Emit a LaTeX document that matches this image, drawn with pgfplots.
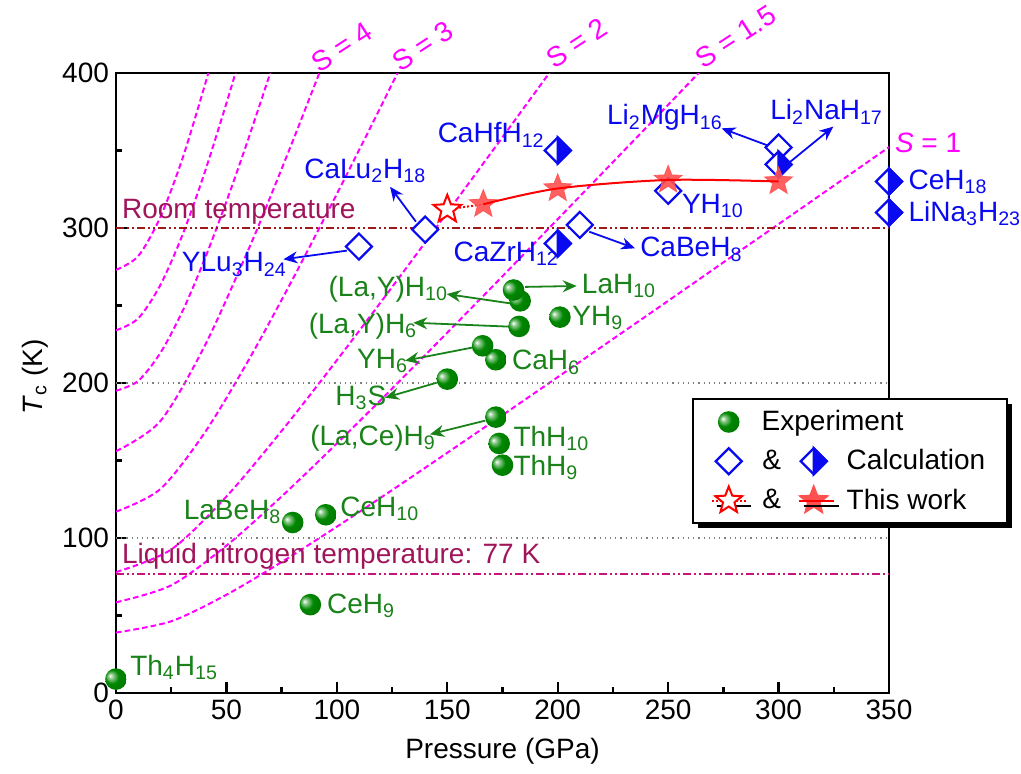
\documentclass[border=0pt]{standalone}
\usepackage{fontspec}
\setmainfont{Liberation Sans}
\usepackage{pgfplots}
\pgfplotsset{compat=1.18}
\usetikzlibrary{arrows.meta,shadows}
\definecolor{mag}{RGB}{255,0,255}
\definecolor{grn}{RGB}{25,130,25}
\definecolor{ballg}{RGB}{0,135,0}
\definecolor{blu}{RGB}{10,10,240}
\definecolor{rtline}{RGB}{160,25,25}
\definecolor{rtext}{RGB}{160,20,90}
\definecolor{lnline}{RGB}{200,20,120}
\definecolor{starf}{RGB}{255,80,80}
\newcommand\s[1]{\textsubscript{#1}}
\newcommand\lf{\fontsize{14}{16}\selectfont}

\pgfdeclareradialshading{gballshade}{\pgfpoint{-14bp}{8bp}}{%
  color(0bp)=(white); color(6bp)=(white!55!ballg); color(16bp)=(ballg);
  color(38bp)=(ballg!85!black); color(50bp)=(ballg!65!black)}
\pgfdeclareplotmark{gball}{%
  \pgfpathcircle{\pgfpointorigin}{\pgfplotmarksize}%
  \pgfshadepath{gballshade}{0}%
  \pgfusepath{discard}}
\pgfdeclareplotmark{odiam}{%
  \pgfpathmoveto{\pgfqpoint{0pt}{\pgfplotmarksize}}%
  \pgfpathlineto{\pgfqpoint{\pgfplotmarksize}{0pt}}%
  \pgfpathlineto{\pgfqpoint{0pt}{-\pgfplotmarksize}}%
  \pgfpathlineto{\pgfqpoint{-\pgfplotmarksize}{0pt}}%
  \pgfpathclose
  \pgfsetfillcolor{white}%
  \pgfusepathqfillstroke}
\pgfdeclareplotmark{hdiam}{%
  \pgfpathmoveto{\pgfqpoint{0pt}{\pgfplotmarksize}}%
  \pgfpathlineto{\pgfqpoint{\pgfplotmarksize}{0pt}}%
  \pgfpathlineto{\pgfqpoint{0pt}{-\pgfplotmarksize}}%
  \pgfpathlineto{\pgfqpoint{-\pgfplotmarksize}{0pt}}%
  \pgfpathclose
  \pgfsetfillcolor{white}%
  \pgfusepathqfillstroke
  \pgfpathmoveto{\pgfqpoint{0pt}{\pgfplotmarksize}}%
  \pgfpathlineto{\pgfqpoint{\pgfplotmarksize}{0pt}}%
  \pgfpathlineto{\pgfqpoint{0pt}{-\pgfplotmarksize}}%
  \pgfpathclose
  \pgfsetfillcolor{blu}%
  \pgfusepathqfillstroke}
\pgfdeclareplotmark{pstar}{%
  \pgfpathmoveto{\pgfqpointpolar{90}{\pgfplotmarksize}}%
  \pgfpathlineto{\pgfqpointpolar{126}{0.43\pgfplotmarksize}}%
  \pgfpathlineto{\pgfqpointpolar{162}{\pgfplotmarksize}}%
  \pgfpathlineto{\pgfqpointpolar{198}{0.43\pgfplotmarksize}}%
  \pgfpathlineto{\pgfqpointpolar{234}{\pgfplotmarksize}}%
  \pgfpathlineto{\pgfqpointpolar{270}{0.43\pgfplotmarksize}}%
  \pgfpathlineto{\pgfqpointpolar{306}{\pgfplotmarksize}}%
  \pgfpathlineto{\pgfqpointpolar{342}{0.43\pgfplotmarksize}}%
  \pgfpathlineto{\pgfqpointpolar{18}{\pgfplotmarksize}}%
  \pgfpathlineto{\pgfqpointpolar{54}{0.43\pgfplotmarksize}}%
  \pgfpathclose
  \pgfusepathqfillstroke}

\begin{document}
\begin{tikzpicture}
\useasboundingbox (-58pt,-40pt) rectangle (452.5pt,346.5pt);
\begin{axis}[
  scale only axis, width=386.5pt, height=310pt,
  at={(0pt,0pt)}, anchor=south west,
  xmin=0, xmax=350, ymin=0, ymax=400,
  xtick={0,50,...,350}, ytick={0,100,...,400},
  minor x tick num=1, minor y tick num=1,
  xtick pos=bottom, ytick pos=left, tick align=inside,
  major tick length=5.5pt, minor tick length=3pt,
  every tick/.style={black, line width=1.2pt},
  axis line style={line width=1.25pt},
  tick label style={font=\lf},
  /pgf/number format/assume math mode=true,
  xlabel={Pressure (GPa)},
  ylabel={\textit{T}\s{c} (K)},
  label style={font=\lf},
  x label style={at={(axis description cs:0.5,-0.0935)}, anchor=center},
  y label style={at={(axis description cs:-0.105,0.51)}, anchor=center},
  clip mode=individual,
  legend cell align=left,
  legend style={at={(0.7448,0.4753)}, anchor=north west, draw=black, line width=1pt,
    fill=white, font=\lf, inner xsep=9pt, inner ysep=3.5pt, row sep=4pt, column sep=4pt,
    drop shadow={shadow xshift=2.5pt, shadow yshift=-2.5pt, fill=black, opacity=1},
    nodes={inner xsep=2pt, inner ysep=2pt}},
]
% legend images
\addlegendimage{legend image code/.code={
  \draw[mark=gball, mark size=5.4pt] plot coordinates {(0pt,0pt)};}}
\addlegendentry{\hspace*{-42.5pt}Experiment}
\addlegendimage{legend image code/.code={
  \draw[draw=blu, line width=1.1pt, mark=odiam, mark size=6.5pt] plot coordinates {(0pt,0pt)};
  \node[black, font=\lf, anchor=center, inner sep=0pt] at (21.5pt,0pt) {\&};
  \draw[draw=blu, line width=1.1pt, mark=hdiam, mark size=6.5pt] plot coordinates {(42.5pt,0pt)};}}
\addlegendentry{Calculation}
\addlegendimage{legend image code/.code={
  \draw[draw=red, densely dotted, line width=1pt] (-8.5pt,0pt) -- (8.5pt,0pt);
  \draw[draw=red, line width=1pt, mark=pstar, mark size=7pt, mark options={solid, draw=red, fill=white}] plot coordinates {(0pt,0pt)};
  \node[black, font=\lf, anchor=center, inner sep=0pt] at (21.5pt,0pt) {\&};
  \draw[draw=starf, mark=pstar, mark size=7pt, mark options={draw=starf, fill=starf}] plot coordinates {(42.5pt,0pt)};
  \draw[draw=red, line width=1pt] (35pt,0pt) -- (52.5pt,0pt);}}
\addlegendentry{This work}

% S curves
\pgfplotsset{scurve/.style={mag, line width=1pt, dash pattern=on 2.8pt off 1.6pt, smooth, forget plot}}
\addplot[scurve] coordinates {(0,39) (25,46.3) (50,63.4) (75,84.5) (100,107.3) (125,130.9) (150,155.0) (175,179.3) (200,203.8) (225,228.4) (250,253.0) (275,277.8) (300,302.5) (325,327.3) (350,352.2)};
\addplot[scurve] coordinates {(0,58.5) (25,69.5) (50,95.1) (75,126.8) (100,161.0) (125,196.4) (150,232.5) (175,268.9) (200,305.7) (225,342.5) (250,379.5) (275,416.6)};
\addplot[scurve] coordinates {(0,78) (25,92.6) (50,126.8) (75,169.1) (100,214.7) (125,261.9) (150,310.0) (175,358.6) (200,407.5)};
\addplot[scurve] coordinates {(0,117) (20,131.5) (40,167.6) (60,214.7) (80,267.0) (100,322.0) (115,364.3) (130,407.2)};
\addplot[scurve] coordinates {(0,156) (20,175.3) (40,223.5) (60,286.2) (70,320.5) (80,356.0) (90,392.4) (95,410.8)};
\addplot[scurve] coordinates {(0,195) (10,201.3) (20,219.2) (30,246.0) (40,279.4) (50,317.1) (60,357.8) (70,400.7)};
\addplot[scurve] coordinates {(0,234) (10,241.6) (20,263.0) (30,295.2) (40,335.2) (50,380.5) (55,404.5)};
\addplot[scurve] coordinates {(0,273) (10,281.8) (20,306.8) (30,344.4) (40,391.1) (45,416.9)};

% reference lines
\addplot[gray, line width=0.6pt, dotted, forget plot] coordinates {(0,100) (350,100)};
\addplot[gray, line width=0.6pt, dotted, forget plot] coordinates {(0,200) (350,200)};
\addplot[rtline, line width=1pt, dash pattern=on 4pt off 1.5pt on 1pt off 1.5pt on 1pt off 1.5pt, forget plot] coordinates {(0,300) (350,300)};
\addplot[lnline, line width=1pt, dash pattern=on 4pt off 1.5pt on 1pt off 1.5pt on 1pt off 1.5pt, forget plot] coordinates {(0,77) (350,77)};

% arrows
\begin{scope}[line width=0.9pt, -{Stealth[length=7pt,width=6pt]}]
\draw[grn] (axis cs:167.1,175.7) -- (axis cs:142.2,166.9);
\draw[grn] (axis cs:145.2,200.2) -- (axis cs:121.8,190.5);
\draw[grn] (axis cs:161.8,223) -- (axis cs:130.9,214.4);
\draw[grn] (axis cs:179.2,236.3) -- (axis cs:134.6,238.9);
\draw[grn] (axis cs:178.4,251.4) -- (axis cs:149.7,257.4);
\draw[grn] (axis cs:185.2,262) -- (axis cs:208.6,262.6);
\draw[blu] (axis cs:104.5,285.4) -- (axis cs:75.8,279.8);
\draw[blu] (axis cs:135.8,304.1) -- (axis cs:124.1,326.6);
\draw[blu] (axis cs:214.3,297.6) -- (axis cs:235,286.9);
\draw[blu] (axis cs:294.6,353.5) -- (axis cs:274.2,364.3);
\draw[blu] (axis cs:304.4,341.7) -- (axis cs:324.8,365.4);
\end{scope}

% experiment
\addplot[only marks, mark=gball, mark size=5.4pt, forget plot] coordinates {
 (0,9) (88,57) (80,110) (95,115) (175,147) (173.5,161) (172,178) (150,202.5) (172,215) (166,224) (182.5,236.5) (183,253) (180,260) (201,242.5)};

% calculation
\addplot[only marks, blu, line width=1.1pt, mark=odiam, mark size=6.5pt, forget plot] coordinates {
 (110,288) (140,299) (210,302) (250,324) (300,352)};
\addplot[only marks, blu, line width=1.1pt, mark=hdiam, mark size=6.5pt, forget plot] coordinates {
 (200,350) (200,290) (300,341) (350,330) (350,310)};

% this work
\addplot[red, line width=1pt, densely dotted, forget plot] coordinates {(150,312) (166.3,315.3)};
\addplot[only marks, starf, mark=pstar, mark size=7.3pt, mark options={fill=starf, fill opacity=0.9, draw opacity=0.9}, forget plot] coordinates {
 (166.3,315.3) (200,325.5) (250,331) (300,330)};
\addplot[red, line width=1pt, smooth, forget plot] coordinates {(166.3,315.3) (200,325.5) (250,331) (300,330)};
\addplot[only marks, red, line width=1pt, mark=pstar, mark size=7.3pt, mark options={fill=white}, forget plot] coordinates {(150,312)};

% labels
\begin{scope}[font=\lf, every node/.append style={inner sep=0pt}]
\node[grn, anchor=base west] at (axis cs:6.3,11.6) {Th\s{4}H\s{15}};
\node[grn, anchor=base west] at (axis cs:95.4,51.4) {CeH\s{9}};
\node[grn, anchor=base west] at (axis cs:30.5,112) {LaBeH\s{8}};
\node[grn, anchor=base west] at (axis cs:101.4,114.2) {CeH\s{10}};
\node[grn, anchor=base west] at (axis cs:179.8,159) {ThH\s{10}};
\node[grn, anchor=base west] at (axis cs:179.8,140.6) {ThH\s{9}};
\node[grn, anchor=base west] at (axis cs:87.8,160) {(La,Ce)H\s{9}};
\node[grn, anchor=base west] at (axis cs:99.2,185.8) {H\s{3}S};
\node[grn, anchor=base west] at (axis cs:109,209.5) {YH\s{6}};
\node[grn, anchor=base west] at (axis cs:179.2,208.4) {CaH\s{6}};
\node[grn, anchor=base west] at (axis cs:87.1,232) {(La,Y)H\s{6}};
\node[grn, anchor=base west] at (axis cs:96.1,255.7) {(La,Y)H\s{10}};
\node[grn, anchor=base west] at (axis cs:210.8,257.9) {LaH\s{10}};
\node[grn, anchor=base west] at (axis cs:206.5,237) {YH\s{9}};

\node[blu, anchor=base west] at (axis cs:29.7,271.8) {YLu\s{3}H\s{24}};
\node[blu, anchor=base west] at (axis cs:85.1,332) {CaLu\s{2}H\s{18}};
\node[blu, anchor=base west] at (axis cs:145.5,355) {CaHfH\s{12}};
\node[blu, anchor=base west] at (axis cs:152.7,278.3) {CaZrH\s{12}};
\node[blu, anchor=base west] at (axis cs:237.2,281.5) {CaBeH\s{8}};
\node[blu, anchor=base west] at (axis cs:256.1,309.5) {YH\s{10}};
\node[blu, anchor=base west] at (axis cs:222.2,366.5) {Li\s{2}MgH\s{16}};
\node[blu, anchor=base west] at (axis cs:296.1,369.7) {Li\s{2}NaH\s{17}};
\node[blu, anchor=base west] at (axis cs:358.7,325) {CeH\s{18}};
\node[blu, anchor=base west] at (axis cs:358.7,304.1) {LiNa\s{3}H\s{23}};

\node[rtext, anchor=base west] at (axis cs:2.6,306) {Room temperature};
\node[rtext, anchor=base west] at (axis cs:2.6,83.7) {Liquid nitrogen temperature: 77 K};

\node[mag, rotate=33] at (axis cs:102.3,416.8) {S = 4};
\node[mag, rotate=33] at (axis cs:139,417.4) {S = 3};
\node[mag, rotate=33] at (axis cs:208.7,419.4) {S = 2};
\node[mag, rotate=33] at (axis cs:280.5,423.5) {S = 1.5};
\node[mag] at (axis cs:367.7,354.8) {\textit{S} = 1};
\end{scope}
\end{axis}
\end{tikzpicture}
\end{document}
